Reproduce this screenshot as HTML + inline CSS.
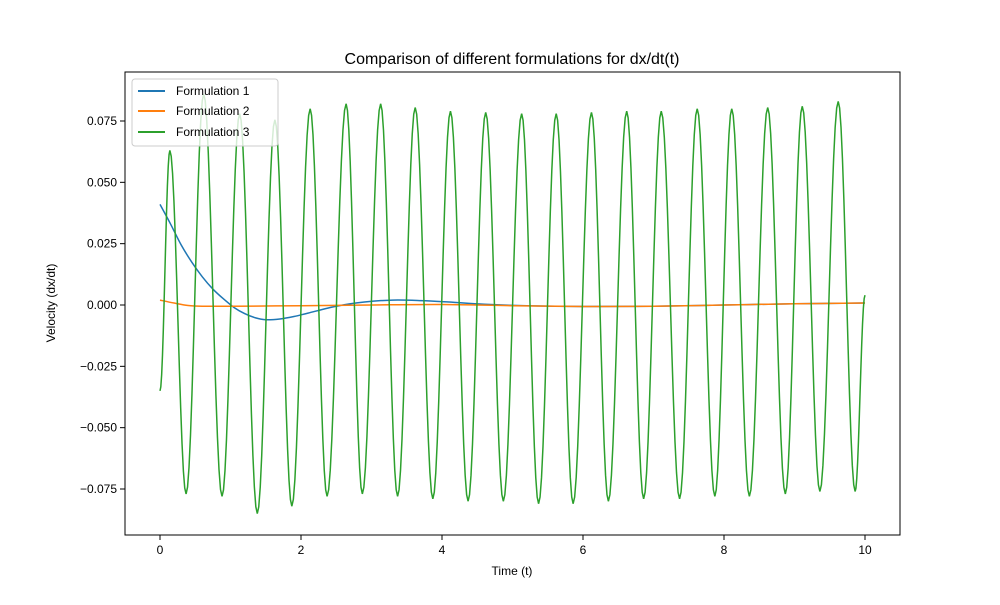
<!DOCTYPE html>
<html><head><meta charset="utf-8"><style>
body{margin:0;background:#fff;font-family:"Liberation Sans",sans-serif}
svg text{font-family:"Liberation Sans",sans-serif;fill:#000}
</style></head><body>
<svg id="chart" width="1000" height="600">
<rect width="1000" height="600" fill="#fff"/>
<text x="512" y="64" font-size="16" text-anchor="middle">Comparison of different formulations for dx/dt(t)</text>
<g id="ticks"></g>
<g id="series"></g>
<rect x="125" y="72" width="775" height="463" fill="none" stroke="#000" stroke-width="1"/>
<text x="512" y="575" font-size="12" text-anchor="middle">Time (t)</text>
<text transform="translate(55,303) rotate(-90)" font-size="12" text-anchor="middle">Velocity (dx/dt)</text>
<g>
<rect x="132" y="79" width="146" height="67" rx="3" fill="#fff" fill-opacity="0.8" stroke="#ccc"/>
<line x1="138" y1="91" x2="165" y2="91" stroke="#1f77b4" stroke-width="2"/>
<text x="176" y="95" font-size="12">Formulation 1</text>
<line x1="138" y1="111" x2="165" y2="111" stroke="#ff7f0e" stroke-width="2"/>
<text x="176" y="115" font-size="12">Formulation 2</text>
<line x1="138" y1="132" x2="165" y2="132" stroke="#2ca02c" stroke-width="2"/>
<text x="176" y="136" font-size="12">Formulation 3</text>
</g>
</svg>
<script>
const xTicks=[0,2,4,6,8,10];
const yTicks=[-0.075,-0.05,-0.025,0,0.025,0.05,0.075];
const yTickLabels=["−0.075","−0.050","−0.025","0.000","0.025","0.050","0.075"];
const f1T=[0,0.15,0.3,0.45,0.6,0.75,0.9,1.05,1.2,1.35,1.5,1.7,1.9,2.1,2.5,2.9,3.3,3.7,4.1,4.6,5.2,6,7,8,9,10];
const f1V=[0.041,0.033,0.0245,0.0175,0.0115,0.0065,0.0025,-0.001,-0.0035,-0.0052,-0.006,-0.0057,-0.0047,-0.0033,-0.0005,0.0012,0.002,0.0018,0.0012,0.0003,-0.0003,-0.0006,-0.0005,0,0.0005,0.0008];
const f2T=[0,0.2,0.4,0.6,1,2,3,4,5,6,7,8,9,10];
const f2V=[0.002,0.0008,-0.0002,-0.0005,-0.0005,-0.0003,0,0.0002,-0.0003,-0.0006,-0.0005,0,0.0005,0.0008];
const f3T=[0,0.14,0.37,0.62,0.88,1.13,1.38,1.63,1.87,2.13,2.37,2.64,2.87,3.13,3.37,3.62,3.87,4.12,4.37,4.62,4.87,5.13,5.37,5.62,5.86,6.12,6.36,6.62,6.86,7.11,7.37,7.62,7.87,8.11,8.36,8.62,8.87,9.11,9.36,9.62,9.86,10];
const f3V=[-0.035,0.063,-0.077,0.086,-0.078,0.078,-0.085,0.0755,-0.082,0.080,-0.078,0.082,-0.077,0.082,-0.078,0.0805,-0.079,0.079,-0.080,0.0785,-0.080,0.078,-0.081,0.078,-0.081,0.0785,-0.080,0.079,-0.079,0.079,-0.079,0.080,-0.078,0.080,-0.078,0.0805,-0.077,0.081,-0.076,0.083,-0.076,0.004];
const X=t=>160+t*70.5;
const Y=v=>305-v*(184/0.075);
const NS="http://www.w3.org/2000/svg";
const tg=document.getElementById('ticks'),sg=document.getElementById('series');
function mk(tag,attrs,parent){const e=document.createElementNS(NS,tag);for(const k in attrs)e.setAttribute(k,attrs[k]);parent.appendChild(e);return e;}
xTicks.forEach(t=>{
 const l=mk('line',{x1:X(t),x2:X(t),y1:535,y2:540,stroke:'#000'},tg);
 
 
 const tx=mk('text',{x:X(t),y:554,'font-size':12,'text-anchor':'middle'},tg);tx.textContent=t;
 
 
});
yTicks.forEach((v,i)=>{
 const l=mk('line',{x1:120,x2:125,y1:Y(v),y2:Y(v),stroke:'#000'},tg);
 
 
 const tx=mk('text',{x:117,y:Y(v)+4,'font-size':12,'text-anchor':'end'},tg);tx.textContent=yTickLabels[i];
 
 
});
function smooth(T,V){
 let d='M'+X(T[0])+','+Y(V[0]);
 for(let i=0;i<T.length-1;i++){
  const p0=[X(T[Math.max(i-1,0)]),Y(V[Math.max(i-1,0)])],p1=[X(T[i]),Y(V[i])],p2=[X(T[i+1]),Y(V[i+1])],p3=[X(T[Math.min(i+2,T.length-1)]),Y(V[Math.min(i+2,T.length-1)])];
  const c1=[p1[0]+(p2[0]-p0[0])/6,p1[1]+(p2[1]-p0[1])/6],c2=[p2[0]-(p3[0]-p1[0])/6,p2[1]-(p3[1]-p1[1])/6];
  d+=` C${c1[0]},${c1[1]} ${c2[0]},${c2[1]} ${p2[0]},${p2[1]}`;
 }
 return d;
}
function cosPath(T,V){
 let d='M'+X(T[0])+','+Y(V[0]);
 for(let i=0;i<T.length-1;i++){
  for(let k=1;k<=12;k++){const s=k/12,w=(1-Math.cos(Math.PI*s))/2;
   d+=' L'+X(T[i]+(T[i+1]-T[i])*s).toFixed(2)+','+Y(V[i]+(V[i+1]-V[i])*w).toFixed(2);}
 }
 return d;
}
const p1=mk('path',{d:smooth(f1T,f1V),fill:'none',stroke:'#1f77b4','stroke-width':1.5},sg);


const p2=mk('path',{d:smooth(f2T,f2V),fill:'none',stroke:'#ff7f0e','stroke-width':1.5},sg);


const p3=mk('path',{d:cosPath(f3T,f3V),fill:'none',stroke:'#2ca02c','stroke-width':1.5},sg);


</script>
</body></html>
